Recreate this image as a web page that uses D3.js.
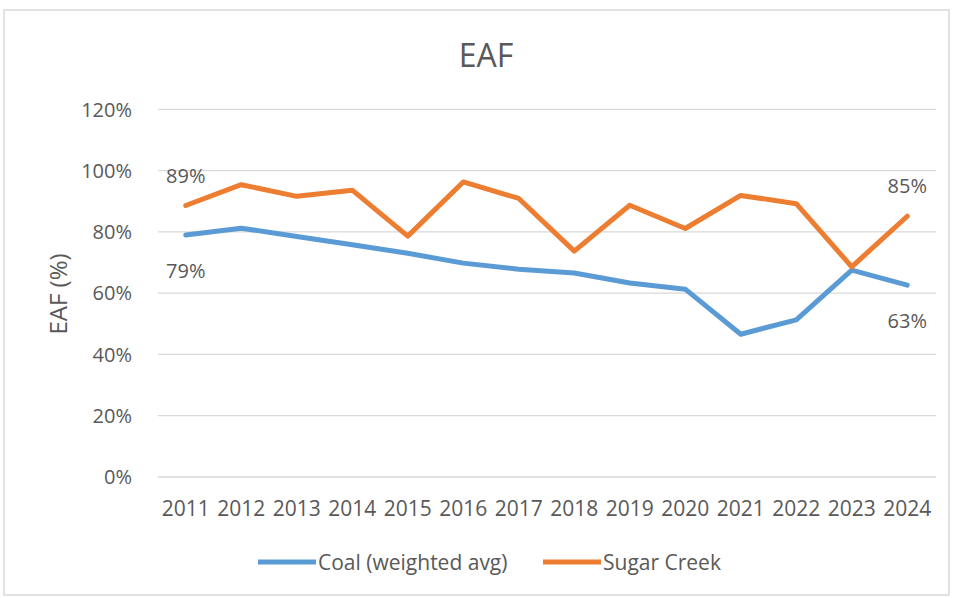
<!DOCTYPE html>
<html>
<head>
<meta charset="utf-8">
<script src="https://cdn.jsdelivr.net/npm/d3@7"></script>
<style>
  body { margin: 0; background: #fff; }
  text { font-family: "Open Sans", sans-serif; fill: #595959; }
</style>
</head>
<body>
<script>
// values (EAF, %)
const years = ["2011", "2012", "2013", "2014", "2015", "2016", "2017", "2018", "2019", "2020", "2021", "2022", "2023", "2024"];
const coal = [79, 81.2, 78.5, 75.8, 73, 69.8, 67.8, 66.6, 63.3, 61.3, 46.6, 51.3, 67.5, 62.6];
const sugarCreek = [88.6, 95.4, 91.6, 93.6, 78.6, 96.3, 90.9, 73.7, 88.7, 81.1, 91.9, 89.2, 68.6, 85.1];
const yTicks = [0, 20, 40, 60, 80, 100, 120];
const seriesNames = ["Coal (weighted avg)", "Sugar Creek"];
const seriesColors = ["#5b9bd5", "#ed7d31"];

makeChart();

function makeChart() {
    const width = 954;
    const height = 598;

    const svg = d3.select("body")
        .append("svg")
        .attr("width", width)
        .attr("height", height);

    // light frame round the chart
    svg.append("rect")
        .attr("x", 4).attr("y", 10)
        .attr("width", 945).attr("height", 585)
        .attr("fill", "#fff")
        .attr("stroke", "#d9d9d9")
        .attr("stroke-width", 1.5);

    const x = d3.scaleBand()
        .domain(years)
        .range([158, 935]);

    const y = d3.scaleLinear()
        .domain([0, 120])
        .range([477, 109.3]);

    const cx = d => x(d) + x.bandwidth() / 2;

    // gridlines
    svg.append("g")
        .selectAll("line")
        .data(yTicks)
        .join("line")
        .attr("x1", 158).attr("x2", 936)
        .attr("y1", d => y(d)).attr("y2", d => y(d))
        .attr("stroke", "#d9d9d9")
        .attr("stroke-width", 1.3);

    // y tick labels
    svg.append("g")
        .selectAll("text")
        .data(yTicks)
        .join("text")
        .attr("x", 132)
        .attr("y", d => y(d))
        .attr("dy", "0.36em")
        .attr("text-anchor", "end")
        .attr("font-size", 20)
        .text(d => d + "%");

    // x tick labels
    svg.append("g")
        .selectAll("text")
        .data(years)
        .join("text")
        .attr("x", d => cx(d))
        .attr("y", 508.5)
        .attr("dy", "0.36em")
        .attr("text-anchor", "middle")
        .attr("font-size", 21)
        .text(d => d);

    // title and axis title
    svg.append("text")
        .attr("x", 486).attr("y", 67)
        .attr("text-anchor", "middle")
        .attr("font-size", 32)
        .text("EAF");

    svg.append("text")
        .attr("transform", "translate(67,294) rotate(-90)")
        .attr("text-anchor", "middle")
        .attr("font-size", 24)
        .text("EAF (%)");

    const line = d3.line()
        .x((d, i) => cx(years[i]))
        .y(d => y(d));

    [coal, sugarCreek].forEach((vals, k) => {
        svg.append("path")
            .datum(vals)
            .attr("fill", "none")
            .attr("stroke", seriesColors[k])
            .attr("stroke-width", 5)
            .attr("stroke-linejoin", "round")
            .attr("stroke-linecap", "round")
            .attr("d", line);
    });

    // end point labels: Sugar Creek above, Coal below
    const last = years.length - 1;
    const labels = [
        { i: 0, v: sugarCreek[0], dy: -30 },
        { i: 0, v: coal[0], dy: 36 },
        { i: last, v: sugarCreek[last], dy: -30 },
        { i: last, v: coal[last], dy: 36 }
    ];
    svg.append("g")
        .selectAll("text")
        .data(labels)
        .join("text")
        .attr("x", d => cx(years[d.i]))
        .attr("y", d => y(d.v) + d.dy)
        .attr("dy", "0.36em")
        .attr("text-anchor", "middle")
        .attr("font-size", 20)
        .text(d => Math.round(d.v) + "%");

    // legend
    const legendX = [258, 543];
    const legend = svg.append("g")
        .selectAll("g")
        .data(seriesNames)
        .join("g")
        .attr("transform", (d, i) => `translate(${legendX[i]},562)`);

    legend.append("line")
        .attr("x1", 0).attr("x2", 58)
        .attr("stroke", (d, i) => seriesColors[i])
        .attr("stroke-width", 5);

    legend.append("text")
        .attr("x", 60)
        .attr("dy", "0.36em")
        .attr("font-size", 21)
        .text(d => d);
}
</script>
</body>
</html>
